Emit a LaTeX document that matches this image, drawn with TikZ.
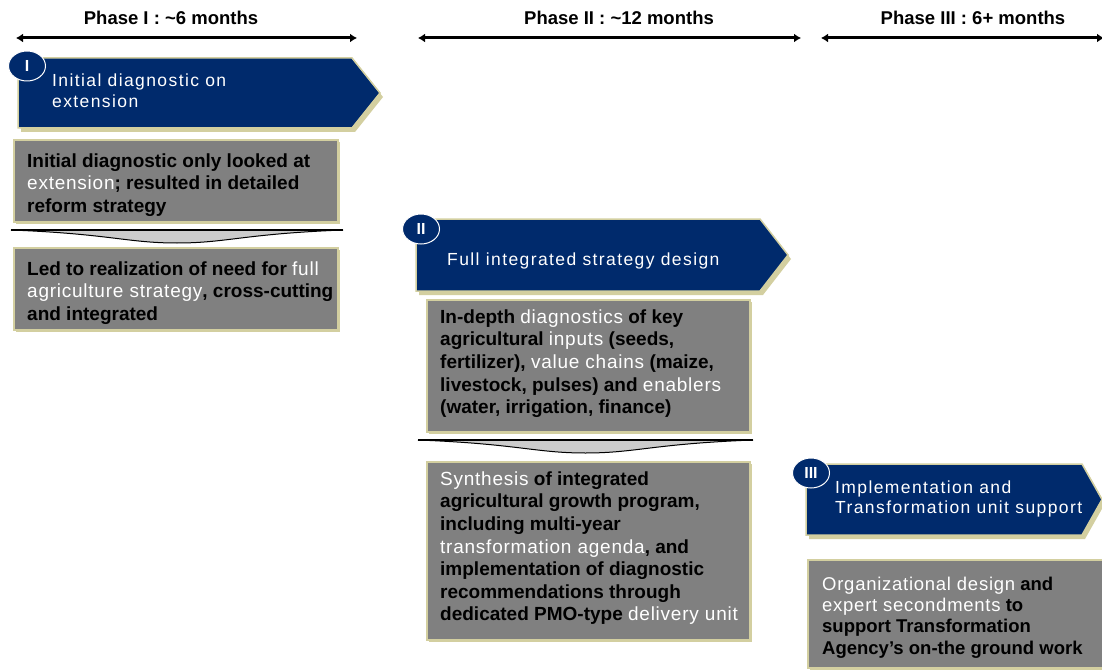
\documentclass[tikz,border=0pt]{standalone}
\usepackage{fontspec}
\setmainfont{Liberation Sans}
\newfontfamily\headfont{Liberation Sans}[LetterSpace=8]
\newfontfamily\hlfont{Liberation Sans}[LetterSpace=4]
\usetikzlibrary{arrows.meta,shapes.geometric}

\definecolor{navy}{HTML}{002A6C}
\definecolor{panelgrey}{HTML}{808080}
\definecolor{tanedge}{HTML}{D3CFA0}
\definecolor{trough}{HTML}{CCCCCC}

% words picked out in white inside the grey panels
\newcommand\hl[1]{{\color{white}\hlfont\mdseries #1}}

% chevron banner: left x, top y, shoulder x, tip x, bottom y
\newcommand\banner[5]{%
  \fill[tanedge] ({#1+3},{#2+4}) -- ({#3+3},{#2+4}) -- ({#4+3},{(#2+#5)/2+4})
    -- ({#3+3},{#5+4}) -- ({#1+3},{#5+4}) -- cycle;
  \filldraw[fill=navy, draw=tanedge, line width=1.5pt] (#1,#2) -- (#3,#2)
    -- (#4,{(#2+#5)/2}) -- (#3,#5) -- (#1,#5) -- cycle;}

% grey panel with tan frame and shadow: x1, y1, x2, y2
\newcommand\panel[4]{%
  \fill[tanedge] ({#1+2},{#2+2}) rectangle ({#3+2},{#4+2});
  \filldraw[fill=panelgrey, draw=tanedge, line width=2pt] (#1,#2) rectangle (#3,#4);}

% separator bar with a shallow trough below: x1, x2, y, depth
\newcommand\trough[4]{%
  \filldraw[fill=trough, draw=black, line width=1pt] (#1,#3)
    .. controls ({#1+(#2-#1)*0.3},{#3+#4*0.3}) and ({#1+(#2-#1)*0.35},{#3+#4}) .. ({(#1+#2)/2},{#3+#4})
    .. controls ({#1+(#2-#1)*0.65},{#3+#4}) and ({#1+(#2-#1)*0.7},{#3+#4*0.3}) .. (#2,#3) -- cycle;
  \draw[line width=2pt] (#1,#3) -- (#2,#3);}

\begin{document}
\begin{tikzpicture}[x=1pt,y=-1pt,
  phaselabel/.style={font=\bfseries\fontsize{18.5}{20}\selectfont, anchor=base, inner sep=0pt},
  span/.style={line width=3pt, {Latex[length=7pt,width=9pt]}-{Latex[length=7pt,width=9pt]}},
  headtext/.style={text=white, font=\headfont\fontsize{17.5}{21}\selectfont, anchor=north west, align=left, inner sep=0pt},
  bodytext/.style={text=black, font=\bfseries\fontsize{19}{22.6}\selectfont, anchor=north west, align=left, inner sep=0pt},
  badge/.style={ellipse, fill=navy, draw=white, line width=1pt, minimum width=37pt, minimum height=30pt, inner sep=0pt, text=white, font=\bfseries\fontsize{16}{16}\selectfont},
]
\useasboundingbox (0,0) rectangle (1102,671);

% phase timelines
\node[phaselabel] (ph1) at (171,25) {Phase I : \textasciitilde6 months};
\node[phaselabel] (ph2) at (619,25) {Phase II : \textasciitilde12 months};
\node[phaselabel] (ph3) at (973,25) {Phase III : 6+ months};
\coordinate (a1l) at (16,38);  \coordinate (a1r) at (357,38);
\coordinate (a2l) at (418,38); \coordinate (a2r) at (801,38);
\coordinate (a3l) at (821,38); \coordinate (a3r) at (1104,38);
\draw[span] (a1l) -- (a1r);
\draw[span] (a2l) -- (a2r);
\draw[span] (a3l) -- (a3r);

% Phase I
\banner{18}{58}{352}{380}{128}
\node[badge] (b1) at (27,66) {I};
\node[headtext] (h1) at (52,73.4) {Initial diagnostic on\\extension};

\panel{14}{140}{338}{222}
\node[bodytext] (t1) at (27,153.3) {Initial diagnostic only looked at\\
  \hl{extension}; resulted in detailed\\reform strategy};
\trough{11}{343}{230}{13}
\panel{14}{248}{338}{330}
\node[bodytext] (t2) at (27,261.3) {Led to realization of need for \hl{full}\\
  \hl{agriculture strategy}, cross-cutting\\and integrated};

% Phase II
\banner{416}{219}{760}{788}{291}
\node[badge] (b2) at (421,229) {II};
\node[headtext] (h2) at (447,252.4) {Full integrated strategy design};

\panel{427}{300}{750}{432}
\node[bodytext] (t3) at (440,309.3) {In-depth \hl{diagnostics} of key\\
  agricultural \hl{inputs} (seeds,\\
  fertilizer), \hl{value chains} (maize,\\
  livestock, pulses) and \hl{enablers}\\
  (water, irrigation, finance)};
\trough{418}{753}{440}{13}
\panel{427}{462}{750}{640}
\node[bodytext] (t4) at (440,471.3) {\hl{Synthesis} of integrated\\
  agricultural  growth program,\\
  including multi-year\\
  \hl{transformation agenda}, and\\
  implementation of diagnostic\\
  recommendations through\\
  dedicated PMO-type \hl{delivery unit}};

% Phase III
\banner{806}{464}{1082}{1102}{535}
\node[badge] (b3) at (811,473) {III};
\node[headtext, font=\headfont\fontsize{17.5}{20}\selectfont] (h3) at (835,480.4)
  {Implementation and\\Transformation unit support};

\panel{808}{560}{1110}{668}
\node[bodytext, font=\bfseries\fontsize{18.5}{21.3}\selectfont] (t5) at (822,576.7)
  {\hl{Organizational design} and\\
  \hl{expert secondments} to\\
  support Transformation\\
  Agency’s on-the ground work};
\end{tikzpicture}
\end{document}
